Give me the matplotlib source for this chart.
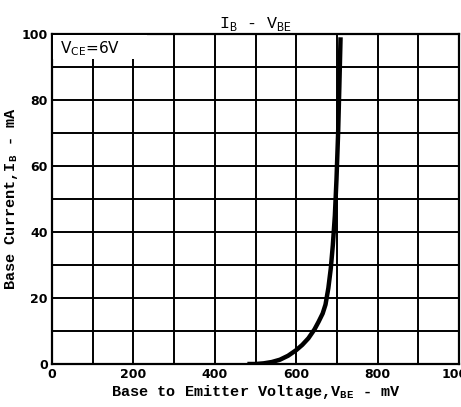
import numpy as np
import matplotlib
matplotlib.use('Agg')
import matplotlib.pyplot as plt
from matplotlib.patches import Rectangle

# curve
vbe_mv = [480, 500, 520, 540, 560, 580, 600, 615, 630, 645, 655, 665, 672,
          679, 685, 690, 695, 699, 703, 706, 709]
ib_ma = [0, 0, 0.2, 0.6, 1.3, 2.5, 4.2, 5.8, 7.8, 10.5, 12.8, 15.3, 18,
         23, 29, 36, 45, 56, 70, 84, 99]

x_ticks = [0, 200, 400, 600, 800, 1000]
y_ticks = [0, 20, 40, 60, 80, 100]

mono = 'Liberation Mono'
narrow = 'Liberation Sans Narrow'

fig = plt.figure(figsize=(4.61, 4.07), dpi=100)
ax = fig.add_axes([52 / 461, 1 - 364 / 407, 407 / 461, 330 / 407])

ax.set_xlim(0, 1000)
ax.set_ylim(0, 100)
ax.set_xticks(np.arange(0, 1001, 100), minor=True)
ax.set_yticks(np.arange(0, 101, 10), minor=True)
ax.set_xticks(x_ticks)
ax.set_yticks(y_ticks)
ax.grid(True, which='both', color='black', linewidth=1.4)
ax.tick_params(which='both', length=0, pad=3, labelsize=9)
for lab in ax.get_xticklabels() + ax.get_yticklabels():
    lab.set_fontweight('bold')
    lab.set_family(narrow)
for sp in ax.spines.values():
    sp.set_linewidth(1.6)

ax.plot(vbe_mv, ib_ma, color='black', linewidth=3.2, solid_capstyle='butt',
        solid_joinstyle='round', zorder=4)

# white patch behind the condition label, grid hidden there
ax.add_patch(Rectangle((3, 92.3), 230, 7.4, facecolor='white', edgecolor='none', zorder=3))
ax.text(20, 98.5, r'V$_\mathregular{CE}$=6V', fontsize=11, va='top', ha='left',
        family=narrow, zorder=5)

ax.set_title(r'I$_\mathregular{B}$ - V$_\mathregular{BE}$', family=mono, fontsize=12, pad=4)
ax.set_xlabel(r'Base to Emitter Voltage,V$_\mathregular{BE}$ - mV', family=mono,
              fontweight='bold', fontsize=11, labelpad=1)
ax.set_ylabel(r'Base Current,I$_\mathregular{B}$ - mA', family=mono,
              fontweight='bold', fontsize=11, labelpad=1)

fig.savefig('out.png', dpi=100)
